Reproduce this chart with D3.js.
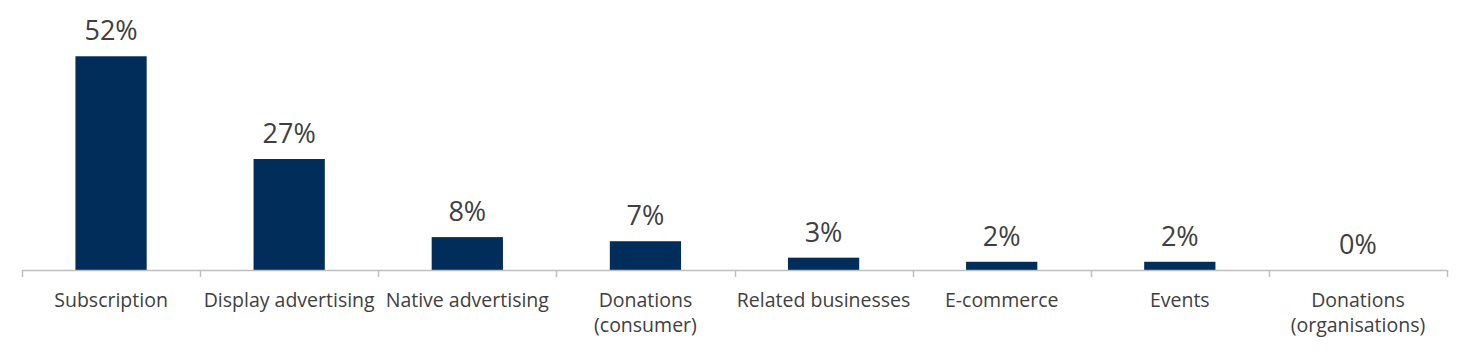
<!DOCTYPE html>
<html>
<head>
<meta charset="utf-8">
<script src="https://cdn.jsdelivr.net/npm/d3@7"></script>
<style>
  html, body { margin: 0; padding: 0; background: #ffffff; }
  svg { display: block; }
</style>
</head>
<body>
<svg id="chart" width="1469" height="358"></svg>
<script>
const categories = ["Subscription", "Display advertising", "Native advertising", "Donations\n(consumer)", "Related businesses", "E-commerce", "Events", "Donations\n(organisations)"];
const values = [52, 27, 8, 7, 3, 2, 2, 0];
const valueLabels = ["52%", "27%", "8%", "7%", "3%", "2%", "2%", "0%"];

const svg = d3.select("#chart");
const baseY = 270;

const slot = d3.scaleBand().domain(categories).range([22, 1447]).padding(0);
const x = d3.scaleBand().domain(categories).range([22, 1447]).paddingInner(0.6).paddingOuter(0.3);
const y = d3.scaleLinear().domain([0, 60]).range([baseY, baseY - 60 * 4.11]);

// bars
svg.selectAll("rect.bar").data(categories).enter().append("rect")
  .attr("class", "bar")
  .attr("x", d => x(d))
  .attr("width", x.bandwidth())
  .attr("y", (d, i) => y(values[i]))
  .attr("height", (d, i) => y(0) - y(values[i]))
  .attr("fill", "#002D59");

// axis line
svg.append("line")
  .attr("x1", slot.range()[0]).attr("x2", slot.range()[1])
  .attr("y1", baseY + 0.5).attr("y2", baseY + 0.5)
  .attr("stroke", "#bfbfbf").attr("stroke-width", 1.5);

// tick marks at slot boundaries
const bounds = categories.map(c => slot(c)).concat([slot.range()[1]]);
svg.selectAll("line.tick").data(bounds).enter().append("line")
  .attr("class", "tick")
  .attr("x1", d => Math.round(d) + 0.5).attr("x2", d => Math.round(d) + 0.5)
  .attr("y1", baseY).attr("y2", baseY + 7)
  .attr("stroke", "#bfbfbf").attr("stroke-width", 1.5);

// value labels
svg.selectAll("text.val").data(categories).enter().append("text")
  .attr("class", "val")
  .attr("x", d => x(d) + x.bandwidth() / 2)
  .attr("y", (d, i) => y(values[i]) - 16)
  .attr("text-anchor", "middle")
  .attr("font-family", "'Open Sans', sans-serif")
  .attr("font-size", 27)
  .attr("fill", "#404040")
  .text((d, i) => valueLabels[i]);

// category labels
const cat = svg.selectAll("text.cat").data(categories).enter().append("text")
  .attr("class", "cat")
  .attr("x", d => slot(d) + slot.bandwidth() / 2)
  .attr("y", 307)
  .attr("text-anchor", "middle")
  .attr("font-family", "'Open Sans', sans-serif")
  .attr("font-size", 19.5)
  .attr("fill", "#404040");
cat.each(function(d) {
  const lines = d.split("\n");
  const t = d3.select(this);
  lines.forEach((ln, k) => {
    t.append("tspan")
      .attr("x", slot(d) + slot.bandwidth() / 2)
      .attr("dy", k === 0 ? 0 : 25)
      .text(ln);
  });
});
</script>
</body>
</html>
